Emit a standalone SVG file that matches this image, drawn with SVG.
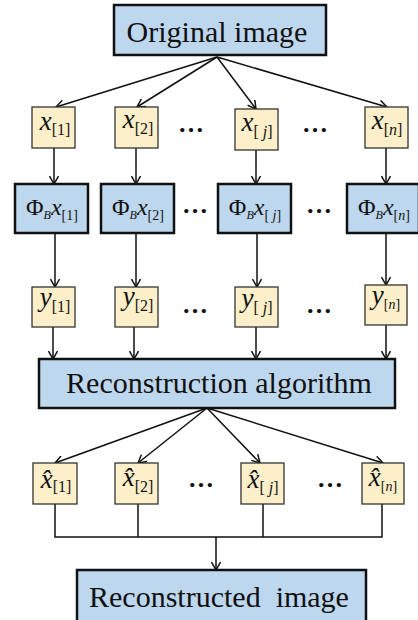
<svg xmlns="http://www.w3.org/2000/svg" width="418" height="620" viewBox="0 0 418 620">
  <defs>
    <style>
      .big { fill: #BDD7EE; stroke: #111; stroke-width: 2.5; }
      .small { fill: #FCEFC9; stroke: #333; stroke-width: 1.3; }
      .title { font-family: "Liberation Serif", "Times New Roman", serif; font-size: 30px; fill: #111; text-anchor: middle; white-space: pre; }
      .lab { font-family: "Liberation Serif", "Times New Roman", serif; font-size: 27px; fill: #111; text-anchor: middle; }
      .it { font-style: italic; }
      .sub { font-size: 16px; }
      .subB { font-size: 12px; font-style: italic; }
      .dots { font-family: "Liberation Serif", serif; font-size: 26px; font-weight: bold; fill: #111; text-anchor: middle; }
      .wire { fill: none; stroke: #111; stroke-width: 1.5; }
    </style>
    <marker id="arr" viewBox="0 0 10 10" refX="9" refY="5" markerWidth="10" markerHeight="10" markerUnits="userSpaceOnUse" orient="auto">
      <path d="M1,0.5 L9,5 L1,9.5" fill="none" stroke="#111" stroke-width="1.5"/>
    </marker>
  </defs>

  <!-- connectors -->
  <g id="connectors" class="wire">
    <path d="M217,57 L56,107" marker-end="url(#arr)"/>
    <path d="M217,57 L137,107" marker-end="url(#arr)"/>
    <path d="M217,57 L256,109" marker-end="url(#arr)"/>
    <path d="M217,57 L387,107" marker-end="url(#arr)"/>

    <path d="M54,148 V184" marker-end="url(#arr)"/>
    <path d="M136,148 V184" marker-end="url(#arr)"/>
    <path d="M256,150 V184" marker-end="url(#arr)"/>
    <path d="M386,148 V184" marker-end="url(#arr)"/>

    <path d="M55,233 V287" marker-end="url(#arr)"/>
    <path d="M136,233 V287" marker-end="url(#arr)"/>
    <path d="M257,233 V287" marker-end="url(#arr)"/>
    <path d="M386,233 V285" marker-end="url(#arr)"/>

    <path d="M53,327 V359" marker-end="url(#arr)"/>
    <path d="M134,327 V359" marker-end="url(#arr)"/>
    <path d="M256,327 V359" marker-end="url(#arr)"/>
    <path d="M386,325 V359" marker-end="url(#arr)"/>

    <path d="M207,408 L55,463" marker-end="url(#arr)"/>
    <path d="M207,408 L138,463" marker-end="url(#arr)"/>
    <path d="M207,408 L260,463" marker-end="url(#arr)"/>
    <path d="M207,408 L383,463" marker-end="url(#arr)"/>

    <path d="M55,504 V537 H382 V504"/>
    <path d="M138,504 V537"/>
    <path d="M263,504 V537"/>
    <path d="M216,537 V570" marker-end="url(#arr)"/>
  </g>

  <!-- source -->
  <g id="original">
    <rect class="big" x="114" y="5" width="212" height="50"/>
    <text class="title" x="217" y="42">Original image</text>
  </g>

  <!-- blocks x[i] -->
  <g id="x1">
    <rect class="small" x="32" y="107" width="43" height="41"/>
    <text class="lab" x="55" y="130"><tspan class="it">x</tspan><tspan class="sub" dy="5">[1]</tspan></text>
  </g>
  <g id="x2">
    <rect class="small" x="115" y="107" width="43" height="41"/>
    <text class="lab" x="138" y="128"><tspan class="it">x</tspan><tspan class="sub" dy="6">[2]</tspan></text>
  </g>
  <g id="xj">
    <rect class="small" x="235" y="109" width="43" height="41"/>
    <text class="lab" x="257" y="131"><tspan class="it">x</tspan><tspan class="sub" dy="6">[ <tspan class="it">j</tspan>]</tspan></text>
  </g>
  <g id="xn">
    <rect class="small" x="365" y="107" width="43" height="41"/>
    <text class="lab" x="387" y="129"><tspan class="it">x</tspan><tspan class="sub" dy="6">[<tspan class="it">n</tspan>]</tspan></text>
  </g>
  <text class="dots" x="191" y="132">…</text>
  <text class="dots" x="315" y="132">…</text>

  <!-- sampling blocks -->
  <g id="phi1">
    <rect class="big" x="15" y="184" width="73" height="49"/>
    <text class="lab" x="52" y="215" style="font-size:24px">Φ<tspan class="subB" dy="4">B</tspan><tspan class="it" dy="-4">x</tspan><tspan class="sub" dy="5" style="font-size:14px">[1]</tspan></text>
  </g>
  <g id="phi2">
    <rect class="big" x="101" y="184" width="73" height="49"/>
    <text class="lab" x="138" y="215" style="font-size:24px">Φ<tspan class="subB" dy="4">B</tspan><tspan class="it" dy="-4">x</tspan><tspan class="sub" dy="5" style="font-size:14px">[2]</tspan></text>
  </g>
  <g id="phij">
    <rect class="big" x="218" y="184" width="73" height="49"/>
    <text class="lab" x="255" y="215" style="font-size:24px">Φ<tspan class="subB" dy="4">B</tspan><tspan class="it" dy="-4">x</tspan><tspan class="sub" dy="5" style="font-size:14px">[ <tspan class="it">j</tspan>]</tspan></text>
  </g>
  <g id="phin">
    <rect class="big" x="347" y="184" width="72" height="49"/>
    <text class="lab" x="384" y="215" style="font-size:24px">Φ<tspan class="subB" dy="4">B</tspan><tspan class="it" dy="-4">x</tspan><tspan class="sub" dy="5" style="font-size:14px">[<tspan class="it">n</tspan>]</tspan></text>
  </g>
  <text class="dots" x="195" y="213">…</text>
  <text class="dots" x="319" y="213">…</text>

  <!-- measurements y[i] -->
  <g id="y1">
    <rect class="small" x="32" y="287" width="43" height="40"/>
    <text class="lab" x="55" y="306"><tspan class="it">y</tspan><tspan class="sub" dy="6">[1]</tspan></text>
  </g>
  <g id="y2">
    <rect class="small" x="115" y="287" width="43" height="40"/>
    <text class="lab" x="138" y="305"><tspan class="it">y</tspan><tspan class="sub" dy="6">[2]</tspan></text>
  </g>
  <g id="yj">
    <rect class="small" x="235" y="287" width="43" height="40"/>
    <text class="lab" x="257" y="307"><tspan class="it">y</tspan><tspan class="sub" dy="6">[ <tspan class="it">j</tspan>]</tspan></text>
  </g>
  <g id="yn">
    <rect class="small" x="365" y="285" width="42" height="40"/>
    <text class="lab" x="386" y="304"><tspan class="it">y</tspan><tspan class="sub" dy="5" style="font-size:14px">[<tspan class="it">n</tspan>]</tspan></text>
  </g>
  <text class="dots" x="195" y="313">…</text>
  <text class="dots" x="319" y="313">…</text>

  <!-- solver -->
  <g id="reconstruction">
    <rect class="big" x="39" y="359" width="356" height="49"/>
    <text class="title" x="219" y="393">Reconstruction algorithm</text>
  </g>

  <!-- estimates -->
  <g id="xh1">
    <rect class="small" x="33" y="463" width="44" height="41"/>
    <text class="lab" x="56" y="488"><tspan class="it">x̂</tspan><tspan class="sub" dy="4">[1]</tspan></text>
  </g>
  <g id="xh2">
    <rect class="small" x="115" y="463" width="43" height="41"/>
    <text class="lab" x="138" y="486"><tspan class="it">x̂</tspan><tspan class="sub" dy="6">[2]</tspan></text>
  </g>
  <g id="xhj">
    <rect class="small" x="241" y="463" width="43" height="41"/>
    <text class="lab" x="263" y="488"><tspan class="it">x̂</tspan><tspan class="sub" dy="5">[ <tspan class="it">j</tspan>]</tspan></text>
  </g>
  <g id="xhn">
    <rect class="small" x="362" y="463" width="42" height="41"/>
    <text class="lab" x="383" y="486"><tspan class="it">x̂</tspan><tspan class="sub" dy="5" style="font-size:14px">[<tspan class="it">n</tspan>]</tspan></text>
  </g>
  <text class="dots" x="201" y="487">…</text>
  <text class="dots" x="330" y="487">…</text>

  <!-- output -->
  <g id="reconstructed">
    <rect class="big" x="77" y="570" width="289" height="54"/>
    <text class="title" x="219" y="607">Reconstructed  image</text>
  </g>
</svg>
